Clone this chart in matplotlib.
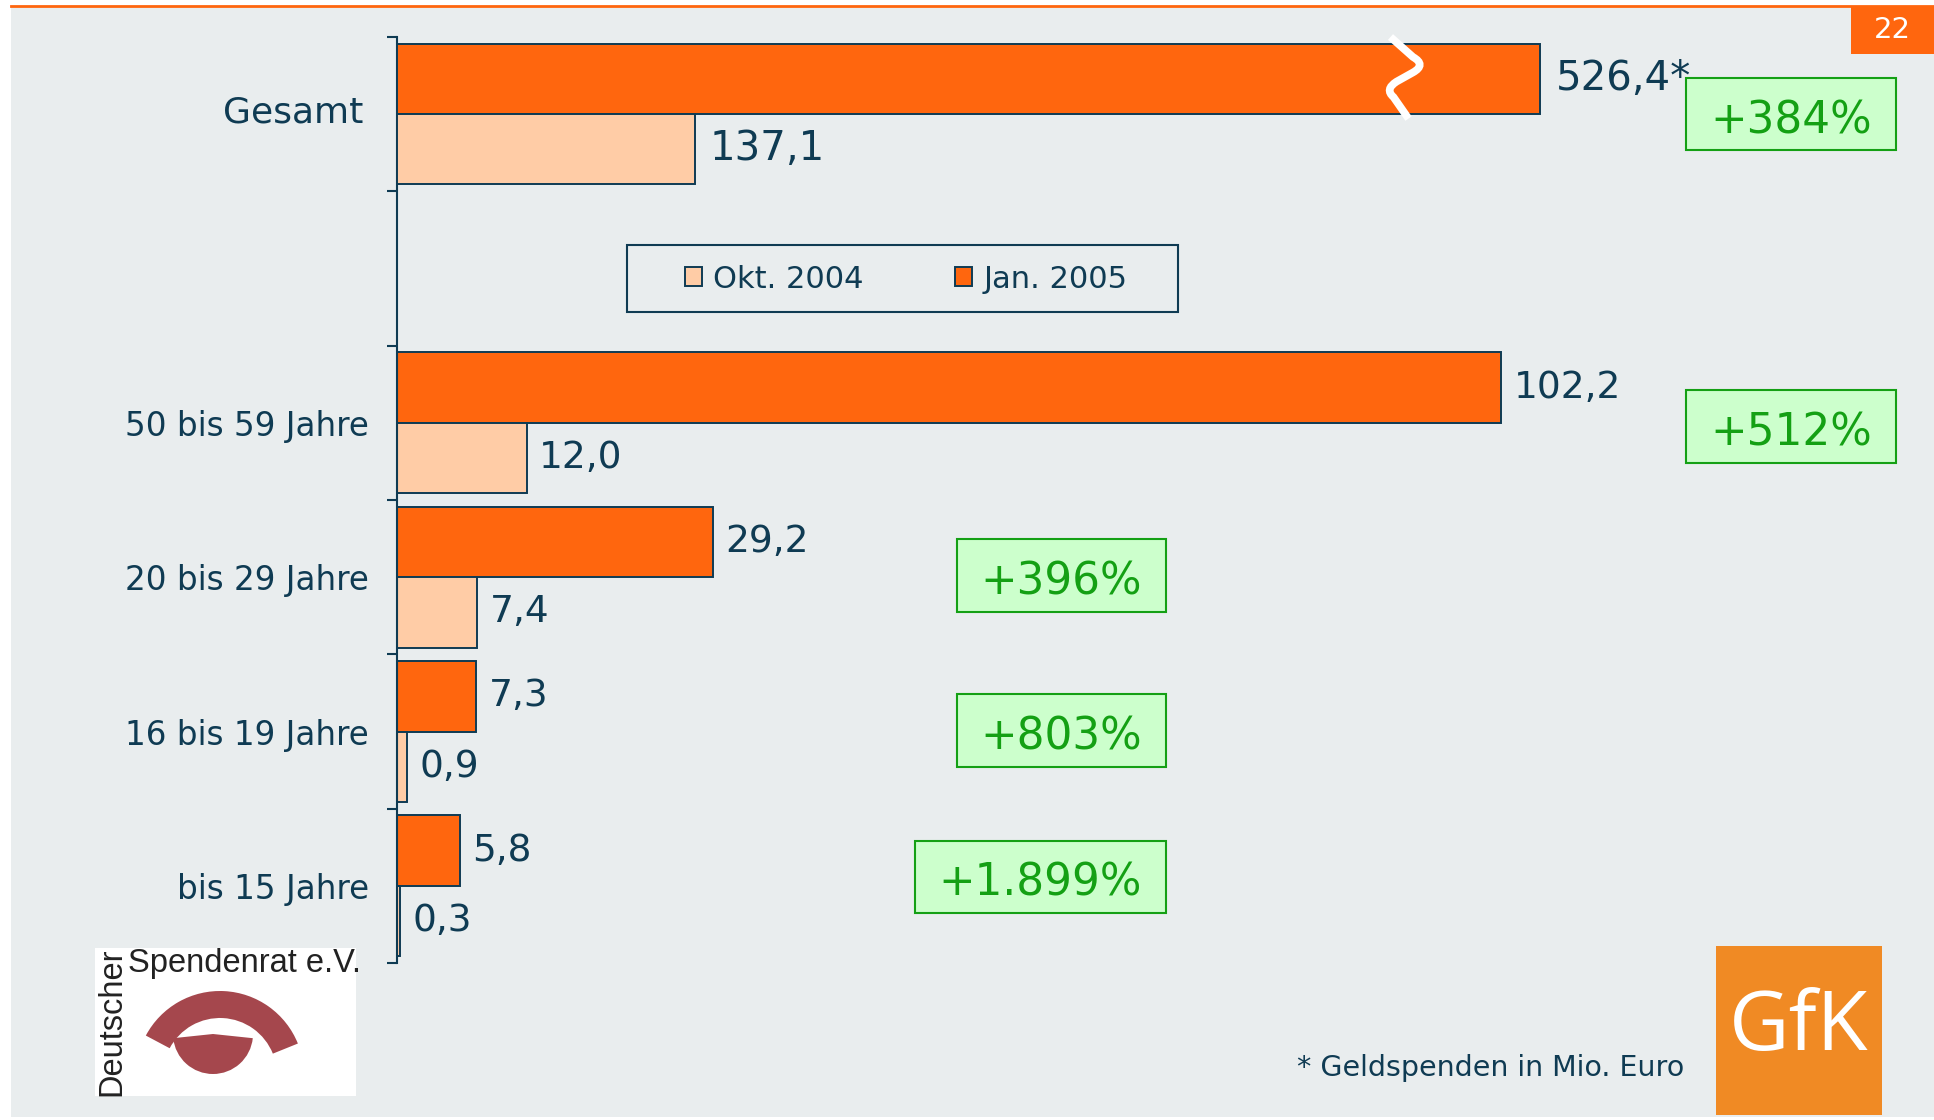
import matplotlib.pyplot as plt
from matplotlib.patches import Rectangle, Wedge, PathPatch
from matplotlib.path import Path

# ── data ─────────────────────────────────────────────────────────────────────
categories = ["Gesamt", "", "50 bis 59 Jahre", "20 bis 29 Jahre",
              "16 bis 19 Jahre", "bis 15 Jahre"]
total_okt = 137.1
total_jan = 526.4
okt_2004 = [12.0, 7.4, 0.9, 0.3]
jan_2005 = [102.2, 29.2, 7.3, 5.8]
growth = ["+384%", "+512%", "+396%", "+803%", "+1.899%"]
series_names = ["Okt. 2004", "Jan. 2005"]

# ── styles ───────────────────────────────────────────────────────────────────
NAVY = "#0F3B53"
ORANGE = "#FF660E"
LIGHT = "#FFCCA6"
BG = "#E9EDEE"
GREEN = "#14A014"
GREEN_BG = "#CCFFCC"
W, H = 1934, 1120


def fmt(v):
    return f"{v:.1f}".replace(".", ",")


def px_rect(x0, y0, x1, y1):
    """figure-fraction rect from a pixel box (y counted from the top)"""
    return (x0 / W, 1 - y1 / H, (x1 - x0) / W, (y1 - y0) / H)


fig = plt.figure(figsize=(W / 100, H / 100), dpi=100, facecolor="white")
plt.rcParams["font.family"] = ["DejaVu Sans"]

# page background + top rule
fig.add_artist(Rectangle((11 / W, 3 / H), 1 - 11 / W, 1 - 10 / H,
                         transform=fig.transFigure, facecolor=BG, edgecolor="none", zorder=-2))
fig.add_artist(plt.Line2D([11 / W, 1], [1 - 6 / H, 1 - 6 / H], transform=fig.transFigure,
                          color=ORANGE, linewidth=2, zorder=1))

# page number
x, y, w, h = px_rect(1851, 7, 1934, 54)
fig.add_artist(Rectangle((x, y), w, h, transform=fig.transFigure,
                         facecolor=ORANGE, edgecolor="none", zorder=2))
fig.text(x + w / 2, y + h / 2, "22", color="white", fontsize=21,
         ha="center", va="center", zorder=3)

ax_left, ax_w = 397 / W, 1503 / W
bar_h = 0.456
off = bar_h / 2

# ── main axes (age groups) ───────────────────────────────────────────────────
ax = fig.add_axes([ax_left, 1 - 963 / H, ax_w, 926 / H])
ax.set_facecolor("none")
ypos = [2, 3, 4, 5]
b_jan = ax.barh([p - off for p in ypos], jan_2005, height=bar_h, color=ORANGE,
                edgecolor=NAVY, linewidth=1.4, label=series_names[1])
b_okt = ax.barh([p + off for p in ypos], okt_2004, height=bar_h, color=LIGHT,
                edgecolor=NAVY, linewidth=1.4, label=series_names[0])
ax.bar_label(b_jan, labels=[fmt(v) for v in jan_2005], padding=9, fontsize=27, color=NAVY)
ax.bar_label(b_okt, labels=[fmt(v) for v in okt_2004], padding=9, fontsize=27, color=NAVY)
ax.set_xlim(0, 139.1)
ax.set_ylim(5.5, -0.5)
ax.set_yticks(range(len(categories)))
ax.set_yticklabels([""] + categories[1:], fontsize=23.5, color=NAVY)
ax.set_yticks([i - 0.5 for i in range(len(categories) + 1)], minor=True)
ax.tick_params(axis="y", which="major", length=0, pad=20)
ax.tick_params(axis="y", which="minor", length=7, width=1.5, color=NAVY)
ax.set_xticks([])
for s in ["top", "right", "bottom"]:
    ax.spines[s].set_visible(False)
ax.spines["left"].set_color(NAVY)
ax.spines["left"].set_linewidth(1.5)

# ── Gesamt axes (own scale) ──────────────────────────────────────────────────
ax_t = fig.add_axes([ax_left, 1 - 191 / H, ax_w, 154 / H])
ax_t.set_facecolor("none")
t_jan = ax_t.barh([-off], [total_jan], height=bar_h, color=ORANGE, edgecolor=NAVY, linewidth=1.4)
t_okt = ax_t.barh([off], [total_okt], height=bar_h, color=LIGHT, edgecolor=NAVY, linewidth=1.4)
ax_t.bar_label(t_jan, labels=[fmt(total_jan) + "*"], padding=11, fontsize=29, color=NAVY)
ax_t.bar_label(t_okt, labels=[fmt(total_okt)], padding=11, fontsize=29, color=NAVY)
ax_t.set_xlim(0, 692)
ax_t.set_ylim(0.5, -0.5)
ax_t.set_yticks([-0.03])
ax_t.set_yticklabels([categories[0]], fontsize=26, color=NAVY)
ax_t.tick_params(axis="y", length=0, pad=24)
ax_t.set_xticks([])
for s in ax_t.spines.values():
    s.set_visible(False)

# axis-break squiggle on the long bar
verts = [(0.661, 1.0), (0.676, 0.87), (0.685, 0.82), (0.676, 0.77),
         (0.665, 0.71), (0.657, 0.66), (0.663, 0.61), (0.673, 0.47)]
codes = [Path.MOVETO, Path.LINETO, Path.CURVE3, Path.CURVE3,
         Path.LINETO, Path.CURVE3, Path.CURVE3, Path.LINETO]
ax_t.add_patch(PathPatch(Path(verts, codes), transform=ax_t.transAxes, facecolor="none",
                         edgecolor="white", linewidth=5.5, capstyle="butt", zorder=5,
                         clip_on=False))

# legend (frame drawn separately to match the box)
x, y, w, h = px_rect(627, 245, 1178, 312)
fig.add_artist(Rectangle((x, y), w, h, transform=fig.transFigure, facecolor=BG,
                         edgecolor=NAVY, linewidth=1.5, zorder=3))
leg = fig.legend([b_okt, b_jan], series_names, loc="center", ncol=2,
                 bbox_to_anchor=(906 / W, 1 - 279 / H), bbox_transform=fig.transFigure,
                 fontsize=22, frameon=False, handlelength=0.56, handleheight=0.56,
                 handletextpad=0.36, columnspacing=3.0, borderpad=0.2)
leg.set_zorder(4)
for t in leg.get_texts():
    t.set_color(NAVY)

# growth boxes
box_pos = [(1686, 78, 1896, 150), (1686, 390, 1896, 463), (957, 539, 1166, 612),
           (957, 694, 1166, 767), (915, 841, 1166, 913)]
for label, (x0, y0, x1, y1) in zip(growth, box_pos):
    x, y, w, h = px_rect(x0, y0, x1, y1)
    fig.add_artist(Rectangle((x, y), w, h, transform=fig.transFigure,
                             facecolor=GREEN_BG, edgecolor=GREEN, linewidth=1.5, zorder=6))
    fig.text(x + w / 2, 1 - ((y0 + y1) / 2 + 19) / H, label, color=GREEN, fontsize=31.5,
             ha="center", va="baseline", zorder=7)

# footnote
fig.text(1684 / W, 1 - 1068 / H, "* Geldspenden in Mio. Euro", color=NAVY,
         fontsize=20.5, ha="right", va="center")

# GfK logo
x, y, w, h = px_rect(1716, 946, 1882, 1115)
fig.add_artist(Rectangle((x, y), w, h, transform=fig.transFigure,
                         facecolor="#F08A24", edgecolor="none", zorder=2))
fig.text(x + w / 2, y + h / 2 + 0.002, "GfK", color="white", fontsize=60,
         family="Open Sans", ha="center", va="center", zorder=3)

# Deutscher Spendenrat logo
ax_l = fig.add_axes(px_rect(95, 948, 356, 1096))
ax_l.set_xlim(0, 261)
ax_l.set_ylim(0, 148)
ax_l.set_facecolor("white")
ax_l.set_xticks([])
ax_l.set_yticks([])
for s in ax_l.spines.values():
    s.set_visible(False)
ax_l.text(33, 148, "Spendenrat e.V.", family="Liberation Sans", fontsize=23.5,
          color="#222222", ha="left", va="top")
ax_l.text(1, 0, "Deutscher", family="Liberation Sans", fontsize=23.5, rotation=90,
          color="#222222", ha="left", va="bottom")
ax_l.add_patch(Wedge((125, 21), 84, 22, 152, width=27, facecolor="#A5474D", edgecolor="none"))
ax_l.add_patch(Wedge((118, 62), 40, 186, 354, facecolor="#A5474D", edgecolor="none"))

plt.savefig("out.png", dpi=100, facecolor=fig.get_facecolor())
